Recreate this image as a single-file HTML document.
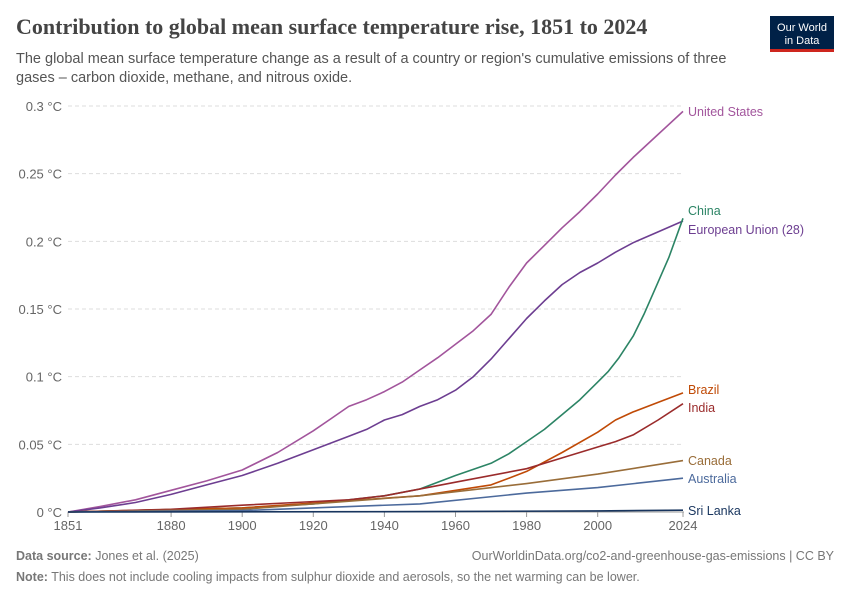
<!DOCTYPE html>
<html><head><meta charset="utf-8"><style>
body{margin:0;background:#fff;font-family:"Liberation Sans",sans-serif;}
</style></head><body>
<svg id="s" width="850" height="600" xmlns="http://www.w3.org/2000/svg" style="display:block">
<text x="16" y="34" font-family="Liberation Serif,serif" font-size="22" font-weight="bold" fill="#444">Contribution to global mean surface temperature rise, 1851 to 2024</text>
<text x="16" y="63" font-size="14.5" fill="#555">The global mean surface temperature change as a result of a country or region's cumulative emissions of three</text>
<text x="16" y="82" font-size="14.5" fill="#555">gases – carbon dioxide, methane, and nitrous oxide.</text>
<rect x="770" y="16" width="64" height="35" fill="#002147"/>
<rect x="770" y="49" width="64" height="3" fill="#ce261e"/>
<text x="802" y="31" font-size="11" fill="#fff" text-anchor="middle">Our World</text>
<text x="802" y="44" font-size="11" fill="#fff" text-anchor="middle">in Data</text>
<g id="grid" font-size="13" fill="#666"></g>
<g id="lines" fill="none" stroke-width="1.6"></g>
<g font-size="12.5">
<text x="688" y="116" fill="#a2559c">United States</text>
<text x="688" y="215" fill="#2c8465">China</text>
<text x="688" y="234" fill="#6d3e91">European Union (28)</text>
<text x="688" y="394" fill="#c04a06">Brazil</text>
<text x="688" y="412" fill="#9a2b2b">India</text>
<text x="688" y="465" fill="#996d39">Canada</text>
<text x="688" y="483" fill="#4c6a9c">Australia</text>
<text x="688" y="515" fill="#18355e">Sri Lanka</text>
</g>
<text x="16" y="560" font-size="12.5" fill="#777"><tspan font-weight="bold">Data source:</tspan> Jones et al. (2025)</text>
<text x="834" y="560" font-size="12.5" fill="#777" text-anchor="end">OurWorldinData.org/co2-and-greenhouse-gas-emissions | CC BY</text>
<text x="16" y="581" font-size="12.5" fill="#777"><tspan font-weight="bold">Note:</tspan> This does not include cooling impacts from sulphur dioxide and aerosols, so the net warming can be lower.</text>
</svg>
<script>
var X=function(y){return 68+(y-1851)*3.555},Y=function(v){return 512-v*1353.3};
var g=document.getElementById('grid'),h='';
for(var i=0;i<=6;i++){var v=i*0.05,y=Y(v);h+='<line x1="68" x2="684" y1="'+y+'" y2="'+y+'" stroke="#ddd" stroke-dasharray="4,3"/>';
var l=i==0?'0 °C':(+v.toFixed(2))+' °C';h+='<text x="62" y="'+(y+5)+'" text-anchor="end">'+l+'</text>';}
h+='<line x1="68" x2="684" y1="512" y2="512" stroke="#999"/>';
[1851,1880,1900,1920,1940,1960,1980,2000,2024].forEach(function(t){h+='<line x1="'+X(t)+'" x2="'+X(t)+'" y1="512" y2="517" stroke="#999"/><text x="'+X(t)+'" y="530" text-anchor="middle">'+t+'</text>';});
g.innerHTML=h;
var S=[
['#a2559c',[[1851,0],[1860,.004],[1870,.009],[1880,.016],[1890,.023],[1900,.031],[1910,.044],[1920,.06],[1925,.069],[1930,.078],[1935,.083],[1940,.089],[1945,.096],[1950,.105],[1955,.114],[1960,.124],[1965,.134],[1970,.146],[1975,.166],[1980,.184],[1985,.197],[1990,.21],[1995,.222],[2000,.235],[2005,.249],[2010,.262],[2017,.279],[2024,.296]]],
['#6d3e91',[[1851,0],[1860,.003],[1870,.007],[1880,.013],[1890,.02],[1900,.027],[1910,.036],[1920,.046],[1930,.056],[1935,.061],[1940,.068],[1945,.072],[1950,.078],[1955,.083],[1960,.09],[1965,.1],[1970,.113],[1975,.128],[1980,.143],[1985,.156],[1990,.168],[1995,.177],[2000,.184],[2005,.192],[2010,.199],[2017,.207],[2024,.215]]],
['#2c8465',[[1851,0],[1900,.003],[1920,.006],[1940,.012],[1950,.017],[1960,.027],[1970,.036],[1975,.043],[1980,.052],[1985,.061],[1990,.072],[1995,.083],[2000,.096],[2003,.104],[2006,.114],[2010,.13],[2013,.146],[2016,.164],[2020,.188],[2024,.217]]],
['#c04a06',[[1851,0],[1900,.003],[1950,.012],[1970,.02],[1975,.025],[1980,.03],[1990,.044],[2000,.059],[2005,.068],[2010,.074],[2017,.081],[2024,.088]]],
['#9a2b2b',[[1851,0],[1880,.002],[1900,.005],[1915,.007],[1930,.009],[1940,.012],[1960,.022],[1980,.032],[1990,.04],[2000,.048],[2005,.052],[2010,.057],[2017,.068],[2024,.08]]],
['#996d39',[[1851,0],[1900,.002],[1950,.012],[1980,.021],[2000,.028],[2024,.038]]],
['#4c6a9c',[[1851,0],[1900,.001],[1950,.006],[1980,.014],[2000,.018],[2024,.025]]],
['#18355e',[[1851,0],[1950,.0003],[2000,.0008],[2024,.0013]]]];
var L='';S.forEach(function(s){L+='<polyline stroke="'+s[0]+'" stroke-linejoin="round" points="'+s[1].map(function(p){return X(p[0]).toFixed(1)+','+Y(p[1]).toFixed(1)}).join(' ')+'"/>';});
document.getElementById('lines').innerHTML=L;
</script>
</body></html>
